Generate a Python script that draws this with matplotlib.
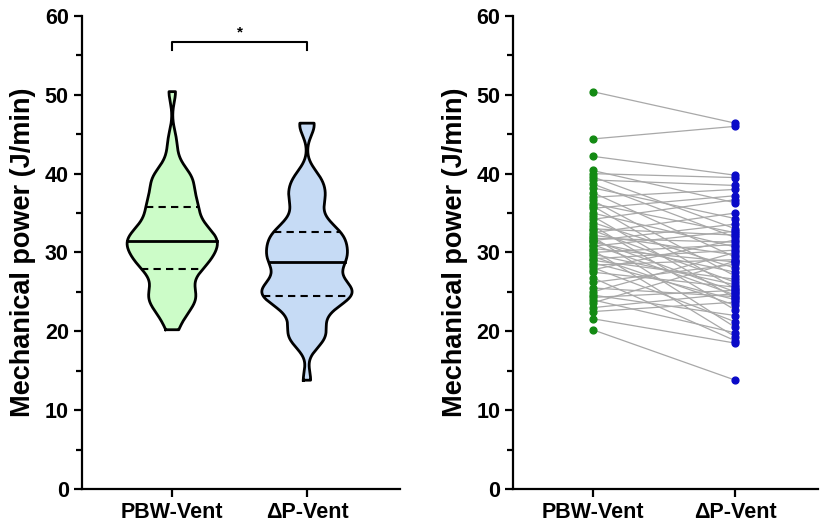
import matplotlib
matplotlib.use("Agg")
import matplotlib.pyplot as plt
import numpy as np

plt.rcParams['font.family'] = ['Liberation Sans', 'DejaVu Sans']
plt.rcParams['font.weight'] = 'bold'

groups = ["PBW-Vent", "ΔP-Vent"]

# paired values, one entry per patient (J/min)
pbw_vent = [50.4, 44.4, 42.2, 40.4, 40.0, 39.6, 39.2, 38.7, 38.2, 37.6, 37.0,
            36.6, 36.2, 35.9, 35.6, 35.0, 34.6, 34.2, 33.8, 33.4, 33.0, 32.8,
            32.5, 32.2, 32.0, 31.8, 31.6, 31.5, 31.3, 31.0, 30.8, 30.5, 30.3,
            30.0, 29.8, 29.5, 29.2, 29.0, 28.7, 28.4, 28.1, 27.8, 27.5, 26.8,
            26.2, 25.5, 25.0, 24.6, 24.3, 24.0, 23.6, 23.0, 22.5, 21.6, 20.2]
dp_vent = [46.4, 46.0, 39.8, 36.3, 39.5, 33.0, 38.5, 31.9, 34.3, 29.4, 38.0,
           27.0, 32.5, 25.4, 37.2, 30.7, 24.2, 36.7, 28.0, 22.7, 32.2, 26.2,
           35.0, 29.7, 20.5, 31.3, 25.0, 33.6, 27.5, 24.6, 32.7, 28.8, 19.3,
           31.0, 25.9, 23.3, 30.3, 26.6, 24.0, 29.1, 21.2, 31.6, 25.6, 18.8,
           28.5, 24.4, 30.0, 22.0, 25.2, 19.8, 28.9, 24.8, 23.7, 18.5, 13.8]

fills = ["#ccfcc8", "#c6dbf5"]


def violin(ax, pos, data, color, bw=1.35, half=0.335):
    data = np.asarray(data)
    ys = np.linspace(data.min(), data.max(), 400)
    dens = np.exp(-0.5 * ((ys[:, None] - data[None, :]) / bw) ** 2).sum(axis=1)
    w = dens / dens.max() * half
    ax.fill_betweenx(ys, pos - w, pos + w, facecolor=color, edgecolor="none", zorder=1)
    xs = np.concatenate([pos - w, (pos + w)[::-1], [pos - w[0]]])
    yy = np.concatenate([ys, ys[::-1], [ys[0]]])
    ax.plot(xs, yy, color="black", lw=2.0, zorder=3, solid_joinstyle="round")
    q1, med, q3 = np.percentile(data, [25, 50, 75])
    for q, ls in [(q1, (0, (3.5, 2.5))), (med, "-"), (q3, (0, (3.5, 2.5)))]:
        hw = np.interp(q, ys, w)
        ax.plot([pos - hw, pos + hw], [q, q], color="black", lw=2.0 if ls == "-" else 1.5,
                ls=ls, zorder=2)


def style(ax):
    for s in ["top", "right"]:
        ax.spines[s].set_visible(False)
    for s in ["left", "bottom"]:
        ax.spines[s].set_linewidth(1.6)
    ax.set_ylim(0, 60)
    ax.set_yticks(range(0, 61, 10))
    ax.set_yticks(range(5, 60, 10), minor=True)
    ax.tick_params(axis="both", which="major", width=1.6, length=6, labelsize=15.5)
    ax.tick_params(axis="y", which="minor", width=1.6, length=4)
    ax.set_xticks([0, 1])
    ax.set_xticklabels(groups, fontweight="bold")
    for lab in ax.get_yticklabels():
        lab.set_fontweight("bold")
    ax.set_ylabel("Mechanical power (J/min)", fontsize=19.5, fontweight="bold", labelpad=6)


fig = plt.figure(figsize=(8.28, 5.25), dpi=100)
ax1 = fig.add_axes([0.099, 0.0686, 0.384, 0.901])
ax2 = fig.add_axes([0.62, 0.0686, 0.368, 0.901])

violin(ax1, 0, pbw_vent, fills[0])
violin(ax1, 1, dp_vent, fills[1])
ax1.set_xlim(-0.67, 1.69)
style(ax1)
ax1.plot([0, 0, 1, 1], [55.7, 56.7, 56.7, 55.7], color="black", lw=1.5, clip_on=False)
ax1.text(0.5, 57.0, "*", ha="center", va="bottom", fontsize=11)

for a, b in zip(pbw_vent, dp_vent):
    ax2.plot([0, 1], [a, b], color="#a8a8a8", lw=0.9, zorder=1)
ax2.scatter(np.zeros(len(pbw_vent)), pbw_vent, s=24, color="#138a13", zorder=3)
ax2.scatter(np.ones(len(dp_vent)), dp_vent, s=24, color="#0a0ac8", zorder=3)
ax2.set_xlim(-0.556, 1.58)
style(ax2)

fig.savefig("out.png", dpi=100)
